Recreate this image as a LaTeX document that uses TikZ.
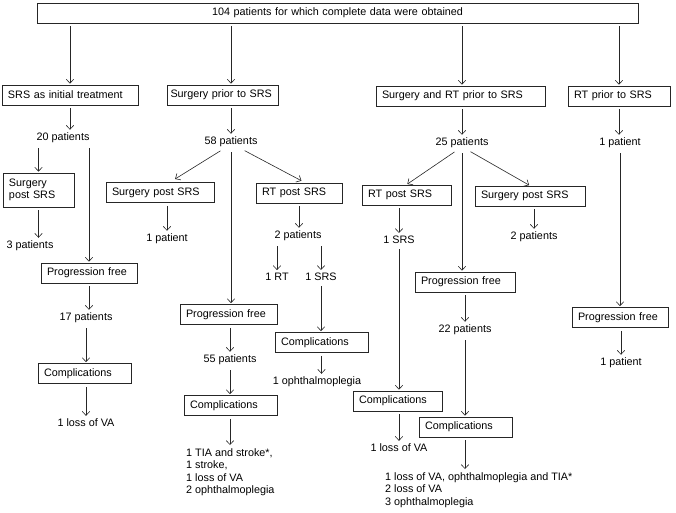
\documentclass[tikz,border=0pt]{standalone}
\usepackage{fontspec}
\setmainfont{Liberation Sans}
\usepackage{tikz}
\usetikzlibrary{arrows.meta}
\tikzset{
  pbox/.style={draw=black!85, line width=0.7pt, inner xsep=6pt, inner ysep=2pt, minimum height=20pt, align=left},
  txt/.style={inner sep=2pt},
  arr/.style={-{Straight Barb[length=4pt,width=7.5pt]}, line width=0.6pt, draw=black!85, shorten <=3pt, shorten >=1pt}
}

\begin{document}
\begin{tikzpicture}[x=1pt, y=-1pt, font=\fontsize{10.8}{12.6}\selectfont]
  \useasboundingbox (0,0) rectangle (676,512);

  % boxes
  \node[pbox, align=center, text width=589pt] (top) at (337.5,13) {104 patients for which complete data were obtained};
  \node[pbox, text width=124pt] (srs) at (70,95) {SRS as initial treatment};
  \node[pbox, inner xsep=3.5pt, text width=104pt] (sps) at (222.5,95) {Surgery prior to SRS};
  \node[pbox, text width=157pt] (srt) at (460.5,96) {Surgery and RT prior to SRS};
  \node[pbox, text width=90pt] (rtp) at (619,96) {RT prior to SRS};

  \node[pbox, text width=59pt, minimum height=34pt] (lsps) at (38.5,190) {Surgery\\post SRS};
  \node[pbox, text width=84pt] (lpf) at (89,273) {Progression free};
  \node[pbox, text width=81pt] (lcomp) at (84.5,373.5) {Complications};

  \node[pbox, text width=96pt] (msps) at (160,192.5) {Surgery post SRS};
  \node[pbox, text width=74pt] (mrt) at (299,193) {RT post SRS};
  \node[pbox, text width=85pt] (mpf) at (228.5,314.5) {Progression free};
  \node[pbox, text width=81pt] (mcomp) at (230.5,405.5) {Complications};
  \node[pbox, text width=81pt] (mrcomp) at (321.5,342.5) {Complications};

  \node[pbox, text width=77pt] (rrt) at (406.5,195) {RT post SRS};
  \node[pbox, text width=98pt] (rsps) at (530,196) {Surgery post SRS};
  \node[pbox, text width=88pt] (rpf) at (465,282) {Progression free};
  \node[pbox, text width=77pt] (rcomp1) at (397.5,401) {Complications};
  \node[pbox, text width=81pt] (rcomp2) at (465.5,427) {Complications};

  \node[pbox, text width=84pt] (fpf) at (620,317.5) {Progression free};

  % counts and outcomes
  \node[txt] (n20) at (63,138) {20 patients};
  \node[txt] (n3) at (30,246) {3 patients};
  \node[txt] (n17) at (86,318) {17 patients};
  \node[txt] (lva1) at (86,423) {1 loss of VA};

  \node[txt] (n58) at (231,142) {58 patients};
  \node[txt] (n1b) at (167,239) {1 patient};
  \node[txt] (n2a) at (298,236) {2 patients};
  \node[txt] (rt1) at (277,277) {1 RT};
  \node[txt] (srs1a) at (321,277) {1 SRS};
  \node[txt] (oph) at (317,382) {1 ophthalmoplegia};
  \node[txt] (n55) at (230,360) {55 patients};
  \node[txt, align=left, anchor=north west] (list1) at (184,446) {1 TIA and stroke*,\\1 stroke,\\1 loss of VA\\2 ophthalmoplegia};

  \node[txt] (n25) at (462,143) {25 patients};
  \node[txt] (srs1b) at (399,240) {1 SRS};
  \node[txt] (lva2) at (399,448) {1 loss of VA};
  \node[txt] (n2b) at (534,237) {2 patients};
  \node[txt] (n22) at (465,330) {22 patients};
  \node[txt, align=left, anchor=north west] (list2) at (383,470) {1 loss of VA, ophthalmoplegia and TIA*\\2 loss of VA\\3 ophthalmoplegia};

  \node[txt] (n1a) at (620,143) {1 patient};
  \node[txt] (n1c) at (621,363) {1 patient};

  % top to groups
  \draw[arr] (top.south -| srs.north) -- (srs.north);
  \draw[arr] (top.south -| n58) -- (n58 |- sps.north);
  \draw[arr] (top.south -| n25) -- (n25 |- srt.north);
  \draw[arr] (top.south -| rtp.north) -- (rtp.north);

  % SRS first
  \draw[arr] (srs.south) -- (srs.south |- n20.north);
  \draw[arr] (lsps.north |- n20.south) -- (lsps.north);
  \draw[arr] (lsps.south) -- (lsps.south |- n3.north);
  \draw[arr] (lpf.north |- n20.south) -- (lpf.north);
  \draw[arr] (lpf.south) -- (lpf.south |- n17.north);
  \draw[arr] (n17) -- (n17 |- lcomp.north);
  \draw[arr] (n17 |- lcomp.south) -- (lva1);

  % surgery prior
  \draw[arr] (sps.south -| n58) -- (n58);
  \draw[arr, shorten >=6pt] ([xshift=-8pt]n58.south) -- ([xshift=10pt]msps.north);
  \draw[arr, shorten >=4pt] ([xshift=11pt]n58.south) -- ([xshift=6pt]mrt.north);
  \draw[arr] (n58) -- (n58 |- mpf.north);
  \draw[arr] (n1b |- msps.south) -- (n1b);
  \draw[arr] (mrt.south) -- (mrt.south |- n2a.north);
  \draw[arr] (rt1 |- n2a.south) -- (rt1);
  \draw[arr] (srs1a |- n2a.south) -- (srs1a);
  \draw[arr] (srs1a) -- (srs1a |- mrcomp.north);
  \draw[arr] (mrcomp.south) -- (mrcomp.south |- oph.north);
  \draw[arr] (n55 |- mpf.south) -- (n55);
  \draw[arr] (n55) -- (n55 |- mcomp.north);
  \draw[arr] (n55 |- mcomp.south) -- (n55 |- list1.north);

  % surgery and RT prior
  \draw[arr] (srt.south -| n25) -- (n25);
  \draw[arr] ([xshift=-5pt]n25.south) -- (rrt.north);
  \draw[arr] ([xshift=6pt]n25.south) -- (rsps.north);
  \draw[arr] (n25) -- (n25 |- rpf.north);
  \draw[arr] (srs1b |- rrt.south) -- (srs1b);
  \draw[arr] (srs1b) -- (srs1b |- rcomp1.north);
  \draw[arr] (srs1b |- rcomp1.south) -- (lva2);
  \draw[arr] (n2b |- rsps.south) -- (n2b);
  \draw[arr] (n22 |- rpf.south) -- (n22);
  \draw[arr] (n22) -- (n22 |- rcomp2.north);
  \draw[arr] (n22 |- rcomp2.south) -- (n22 |- list2.north);

  % RT prior
  \draw[arr] (rtp.south) -- (rtp.south |- n1a.north);
  \draw[arr] (n1a) -- (n1a |- fpf.north);
  \draw[arr] (n1c |- fpf.south) -- (n1c);
\end{tikzpicture}
\end{document}
